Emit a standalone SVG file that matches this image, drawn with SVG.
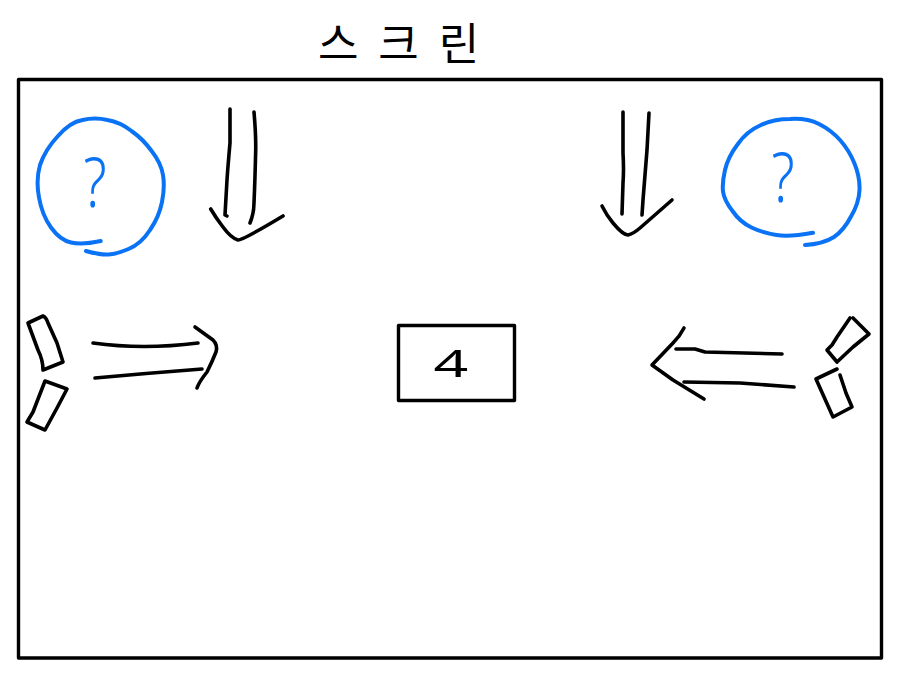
<svg xmlns="http://www.w3.org/2000/svg" width="900" height="677" viewBox="0 0 900 677">
<style>
.ink{fill:none;stroke:#000;stroke-width:3.6;stroke-linecap:round;stroke-linejoin:round}
.blue{fill:none;stroke:#0a72f5;stroke-width:4;stroke-linecap:round;stroke-linejoin:round}
.box{fill:#fff;stroke:#000;stroke-width:3.4;stroke-linejoin:round}
.q{font-family:"Noto Sans","Liberation Sans",sans-serif;font-size:68px;font-weight:300;fill:#0a72f5;text-anchor:middle}
.t{font-family:"Noto Sans CJK KR",sans-serif;font-weight:400;fill:#000}
</style>
<rect width="900" height="677" fill="#fff"/>
<g id="screen"><rect class="box" x="18.5" y="79.5" width="863" height="578.5"/></g>
<g id="title"><text class="t" x="318" y="60" font-size="44" letter-spacing="5">스 크 린</text></g>
<g id="circle-left">
<path class="blue" d="M100.7 241Q82 245 71 242.5Q60 240 51 227.5Q42 215 39 197.5Q35.7 180 40 165Q45 150 57.5 136.5Q70 122 82.5 120Q95 117 107.5 120Q120 122 131.5 131Q143 139 152 151.5Q161 163 163 175Q165 187 162 202Q159 217 150 230Q141 244 128.5 249Q117 254 108.5 254.5Q100 255 86 251"/>
<text class="q" transform="translate(95,207) scale(.8,1)">?</text>
</g>
<g id="circle-right">
<path class="blue" d="M813 232.7Q790 237 776.5 235Q763 233 751.5 227.5Q740 222 732.5 211Q724 200 723 191.5Q722 183 725 170Q728 157 737.5 144.5Q747 131 760 125.5Q773 119 790 119Q807 118 819 124Q831 130 840 140Q849 150 854.5 163.5Q860 177 859.5 190Q859 203 851 216.5Q844 230 834 237Q823 244 805 245"/>
<text class="q" transform="translate(783,202) scale(.8,1)">?</text>
</g>
<g id="center-box">
<rect class="box" x="398.5" y="325.5" width="116" height="75"/>
<text font-size="38" font-weight="400" text-anchor="middle" transform="translate(451,377) scale(1.6,1)" style="font-family:'Noto Sans','Liberation Sans',sans-serif" fill="#000">4</text>
</g>
<g id="sensor-left-top"><path class="ink" d="M28 323L43 316Q46 317 48 323L57 343L63 362L43 370Q43 360 38 350Z"/></g>
<g id="sensor-left-bottom"><path class="ink" d="M45 381L67 389L57 408L45 430L27 422L33 412Z"/></g>
<g id="sensor-right-top"><path class="ink" d="M850 318L837 337L832 345L827 350L837 362L853 347L869 334L853 318"/></g>
<g id="sensor-right-bottom"><path class="ink" d="M837 369L816 379L833 417L852 407L846 393L840 375"/></g>
<g id="connectors">
<path class="ink" d="M230 109Q230 130 230 143Q228 165 227 180L225 215L227 216"/>
<path class="ink" d="M254 112Q256 135 255.7 150Q255 180 254 203Q254 213 250 223"/>
<path class="ink" d="M210.7 209Q216 218 223 227Q231 238 238 240Q243 240 283 216"/>
<path class="ink" d="M623 112L623 153Q624 170 623 183L622 214"/>
<path class="ink" d="M649 113L647 150L643 200L642 215"/>
<path class="ink" d="M602 206Q607 216 613 223Q623 235 628 235Q633 234 640 228L672 200"/>
<path class="ink" d="M93 343Q143 350 198 343"/>
<path class="ink" d="M95 378Q150 373 202 369"/>
<path class="ink" d="M195 327L213 340Q218 345 216 352Q212 362 207 372Q199 382 197 388"/>
<path class="ink" d="M684 328Q680 336 673 343L652 365L673 380L704 399"/>
<path class="ink" d="M676 349L695 349L705 352L782 354"/>
<path class="ink" d="M684 382L740 383L794 387"/>
</g>
</svg>
